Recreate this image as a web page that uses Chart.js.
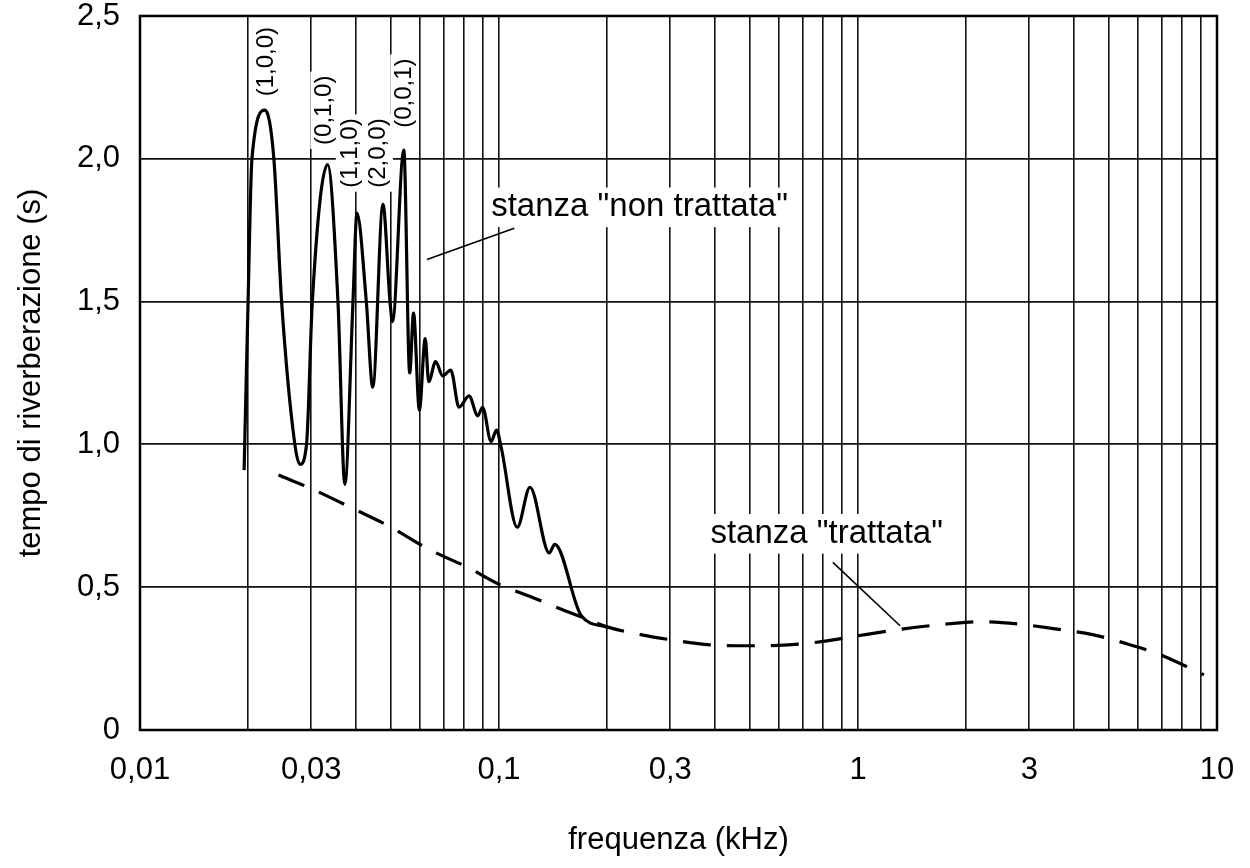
<!DOCTYPE html>
<html lang="it">
<head>
<meta charset="UTF-8">
<title>Tempo di riverberazione</title>
<script src="https://cdn.jsdelivr.net/npm/chart.js@4.4.1/dist/chart.umd.min.js"></script>
<style>
  html, body { margin: 0; padding: 0; background: #fff; }
  #wrap { width: 1250px; height: 868px; }
</style>
</head>
<body>
<div id="wrap"><canvas id="rt-chart" width="1250" height="868"></canvas></div>
<script>
// stanza "non trattata" (linea continua), frequenza in kHz, tempo in s
const untreatedFreq = [0.0195, 0.0200, 0.0205, 0.0223, 0.0236, 0.0248, 0.0270, 0.0279,
  0.0291, 0.0302, 0.0333, 0.0356, 0.0372, 0.0392, 0.0402, 0.0427, 0.0445, 0.0475, 0.0497,
  0.0505, 0.0543, 0.0564, 0.0578, 0.0600, 0.0623, 0.0637, 0.0666, 0.0697, 0.0734, 0.0774,
  0.0825, 0.0873, 0.0900, 0.0951, 0.0984, 0.1014, 0.1124, 0.122, 0.138, 0.143, 0.1695, 0.2];
const untreatedRT = [0.91, 1.50, 2.00, 2.17, 2.00, 1.50, 1.00, 0.93,
  1.00, 1.50, 1.98, 1.50, 0.86, 1.50, 1.81, 1.50, 1.20, 1.84, 1.50,
  1.43, 2.03, 1.25, 1.46, 1.12, 1.37, 1.22, 1.29, 1.24, 1.26, 1.13,
  1.17, 1.10, 1.13, 1.01, 1.05, 0.99, 0.71, 0.85, 0.62, 0.65, 0.40, 0.36];

// stanza "trattata" (linea tratteggiata)
const treatedFreq = [0.0243, 0.03, 0.04, 0.05, 0.0637, 0.0825, 0.1, 0.124, 0.151, 0.171,
  0.2, 0.25, 0.3, 0.38, 0.5, 0.6, 0.8, 1.0, 1.3, 1.8, 2.2, 2.8, 3.5, 4.5, 5.5, 7.0, 9.2];
const treatedRT = [0.893, 0.845, 0.77, 0.71, 0.633, 0.567, 0.51, 0.464, 0.42, 0.394,
  0.361, 0.333, 0.316, 0.299, 0.295, 0.296, 0.31, 0.33, 0.352, 0.372, 0.379, 0.371,
  0.355, 0.334, 0.305, 0.262, 0.193];

// assi
const freqLabels = [0.01, 0.03, 0.1, 0.3, 1, 3, 10];
const freqDecades = [0.01, 0.1, 1];
const rtTicks = [0, 0.5, 1, 1.5, 2, 2.5];

// modi propri della stanza
const modeLabels = ['(1,0,0)', '(0,1,0)', '(1,1,0)', '(2,0,0)', '(0,0,1)'];
const modeFreq = [0.0225, 0.0327, 0.0385, 0.0462, 0.0546];
const modeRT = [2.34, 2.17, 2.02, 2.02, 2.23];

// didascalie con linea di richiamo
const noteText = ['stanza "non trattata"', 'stanza "trattata"'];
const noteFreq = [0.0951, 0.388];
const noteRT = [1.83, 0.687];
const leaderFrom = [[0.0630, 1.647], [0.851, 0.587]];
const leaderTo = [[0.1103, 1.757], [1.31, 0.365]];

const FONT = "'Liberation Sans', Arial, Helvetica, sans-serif";

const gridValues = [];
freqDecades.forEach(d => {
  for (let m = 1; m <= 9; m++) gridValues.push(parseFloat((m * d).toPrecision(3)));
});
gridValues.push(10);

function fmt(v) {
  return String(v).replace('.', ',');
}

function labelBox(ctx, text, x, y, size, rotate) {
  ctx.save();
  ctx.font = size + 'px ' + FONT;
  ctx.translate(x, y);
  if (rotate) ctx.rotate(-Math.PI / 2);
  const w = ctx.measureText(text).width;
  ctx.fillStyle = '#fff';
  ctx.fillRect(-w / 2 - 4, -size * 0.6, w + 8, size * 1.2);
  ctx.fillStyle = '#000';
  ctx.textAlign = 'center';
  ctx.textBaseline = 'middle';
  ctx.fillText(text, 0, 0);
  ctx.restore();
}

const annotations = {
  id: 'annotations',
  beforeDatasetsDraw(chart) {
    const { ctx, scales: { x, y } } = chart;
    modeLabels.forEach((t, i) => {
      labelBox(ctx, t, x.getPixelForValue(modeFreq[i]), y.getPixelForValue(modeRT[i]), 24, true);
    });
    noteText.forEach((t, i) => {
      ctx.save();
      ctx.font = '33px ' + FONT;
      const w = ctx.measureText(t).width;
      ctx.restore();
      const px = x.getPixelForValue(noteFreq[i]) + w / 2;
      labelBox(ctx, t, px, y.getPixelForValue(noteRT[i]), 33, false);
    });
    ctx.save();
    ctx.strokeStyle = '#000';
    ctx.lineWidth = 1.6;
    leaderFrom.forEach((p, i) => {
      ctx.beginPath();
      ctx.moveTo(x.getPixelForValue(p[0]), y.getPixelForValue(p[1]));
      ctx.lineTo(x.getPixelForValue(leaderTo[i][0]), y.getPixelForValue(leaderTo[i][1]));
      ctx.stroke();
    });
    ctx.restore();
  },
  afterDraw(chart) {
    const { ctx, chartArea: a } = chart;
    ctx.save();
    ctx.strokeStyle = '#000';
    ctx.lineWidth = 2.5;
    ctx.strokeRect(a.left, a.top, a.right - a.left, a.bottom - a.top);
    ctx.restore();
  }
};

const ctx = document.getElementById('rt-chart').getContext('2d');
new Chart(ctx, {
  type: 'line',
  data: {
    datasets: [
      {
        label: 'stanza "non trattata"',
        data: untreatedFreq.map((f, i) => ({ x: f, y: untreatedRT[i] })),
        borderColor: '#000',
        borderWidth: 3.2,
        pointRadius: 0,
        cubicInterpolationMode: 'monotone',
        fill: false
      },
      {
        label: 'stanza "trattata"',
        data: treatedFreq.map((f, i) => ({ x: f, y: treatedRT[i] })),
        borderColor: '#000',
        borderWidth: 3.2,
        borderDash: [28, 16],
        pointRadius: 0,
        cubicInterpolationMode: 'monotone',
        fill: false
      }
    ]
  },
  options: {
    responsive: false,
    animation: false,
    layout: { padding: { top: 0, right: 33, left: 0, bottom: 0 } },
    plugins: { legend: { display: false }, tooltip: { enabled: false } },
    scales: {
      x: {
        type: 'logarithmic',
        min: 0.01,
        max: 10,
        afterBuildTicks: s => { s.ticks = gridValues.map(v => ({ value: v })); },
        afterFit: s => { s.height = 138; },
        grid: { color: '#111', lineWidth: 1.6, drawTicks: true, tickLength: 8, tickColor: 'rgba(0,0,0,0)' },
        border: { display: false },
        ticks: {
          autoSkip: false,
          maxRotation: 0,
          padding: 14,
          color: '#000',
          font: { family: FONT, size: 31 },
          callback: v => freqLabels.includes(v) ? fmt(v) : ''
        },
        title: {
          display: true,
          text: 'frequenza (kHz)',
          color: '#000',
          font: { family: FONT, size: 31 },
          padding: { top: 4, bottom: 9 }
        }
      },
      y: {
        min: 0,
        max: 2.5,
        afterBuildTicks: s => { s.ticks = rtTicks.map(v => ({ value: v })); },
        afterFit: s => { s.width = 140; },
        grid: { color: '#111', lineWidth: 1.8, drawTicks: true, tickLength: 20, tickColor: 'rgba(0,0,0,0)' },
        border: { display: false },
        ticks: {
          padding: 0,
          color: '#000',
          font: { family: FONT, size: 31, lineHeight: 1.03 },
          callback: v => v === 0 ? '0' : v.toFixed(1).replace('.', ',')
        },
        title: {
          display: true,
          text: 'tempo di riverberazione (s)',
          color: '#000',
          font: { family: FONT, size: 31 },
          padding: { top: 13, bottom: 4 }
        }
      }
    }
  },
  plugins: [annotations]
});
</script>
</body>
</html>
